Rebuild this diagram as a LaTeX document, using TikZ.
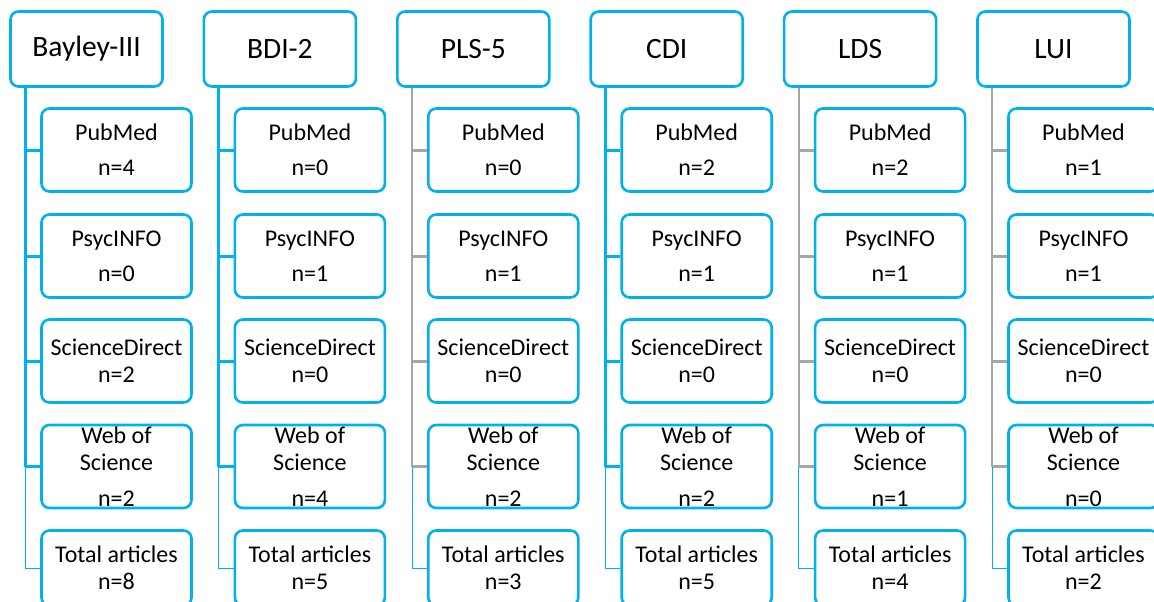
\documentclass[tikz,border=0pt]{standalone}
\usepackage{fontspec}
\setmainfont{Carlito}
\usetikzlibrary{positioning,calc}
\definecolor{lineblue}{RGB}{0,176,240}
\definecolor{linegray}{RGB}{166,166,166}

\begin{document}
\begin{tikzpicture}[x=1pt, y=-1pt,
  head/.style={draw=lineblue, line width=2.6pt, rounded corners=8pt,
               minimum width=152pt, minimum height=75pt, inner sep=0pt,
               font=\fontsize{29.5}{34}\selectfont},
  db/.style={draw=lineblue, line width=2.6pt, rounded corners=8pt,
             minimum width=150pt, minimum height=83pt, inner sep=0pt,
             align=center, font=\fontsize{24}{27}\selectfont},
  lastdb/.style={db, minimum height=75pt},
  trunkblue/.style={draw=lineblue, line width=3pt},
  armblue/.style={draw=lineblue, line width=3pt},
  trunkgray/.style={draw=linegray, line width=1.5pt},
  armgray/.style={draw=linegray, line width=3pt},
  lastarm/.style={draw=lineblue, line width=1pt}
]
\useasboundingbox (0,0) rectangle (1154,602);
\clip (0,0) rectangle (1154,602);

%% ---- one column per instrument ----
\foreach \name/\pm/\ps/\sd/\ws/\tt/\ty [count=\i from 0] in
  {Bayley-III/4/0/2/2/8/blue, BDI-2/0/1/0/4/5/blue, PLS-5/0/1/0/2/3/gray,
   CDI/2/1/0/2/5/blue, LDS/2/1/0/1/4/gray, LUI/1/1/0/0/2/gray}
{
  \pgfmathsetmacro\hx{86.5+193.4*\i}
  \pgfmathsetmacro\dx{116.5+193.4*\i}
  \node[head] (head\i) at (\hx, 49) {\name};

  \node[db] (pub\i) at (\dx, 150)   {PubMed\\[8pt]n=\pm};
  \node[db] (psy\i) at (\dx, 256)   {PsycINFO\\[8pt]n=\ps};
  \node[db] (sd\i)  at (\dx, 361)   {ScienceDirect\\n=\sd};
  \node[db] (wos\i) at (\dx, 466.5) {Web of\\Science\\[9pt]n=\ws};
  \node[lastdb] (tot\i) at (\dx, 568) {Total articles\\n=\tt};

  %% trunk and branches
  \coordinate (trunk\i) at ([xshift=16pt]head\i.south west);
  \draw[trunk\ty] (trunk\i) -- (trunk\i |- wos\i.west);
  \foreach \b in {pub,psy,sd,wos}
    \draw[arm\ty] (trunk\i |- \b\i.west) -- (\b\i.west);
  \draw[lastarm] (trunk\i |- wos\i.west) |- (tot\i.west);
}

\end{tikzpicture}
\end{document}
